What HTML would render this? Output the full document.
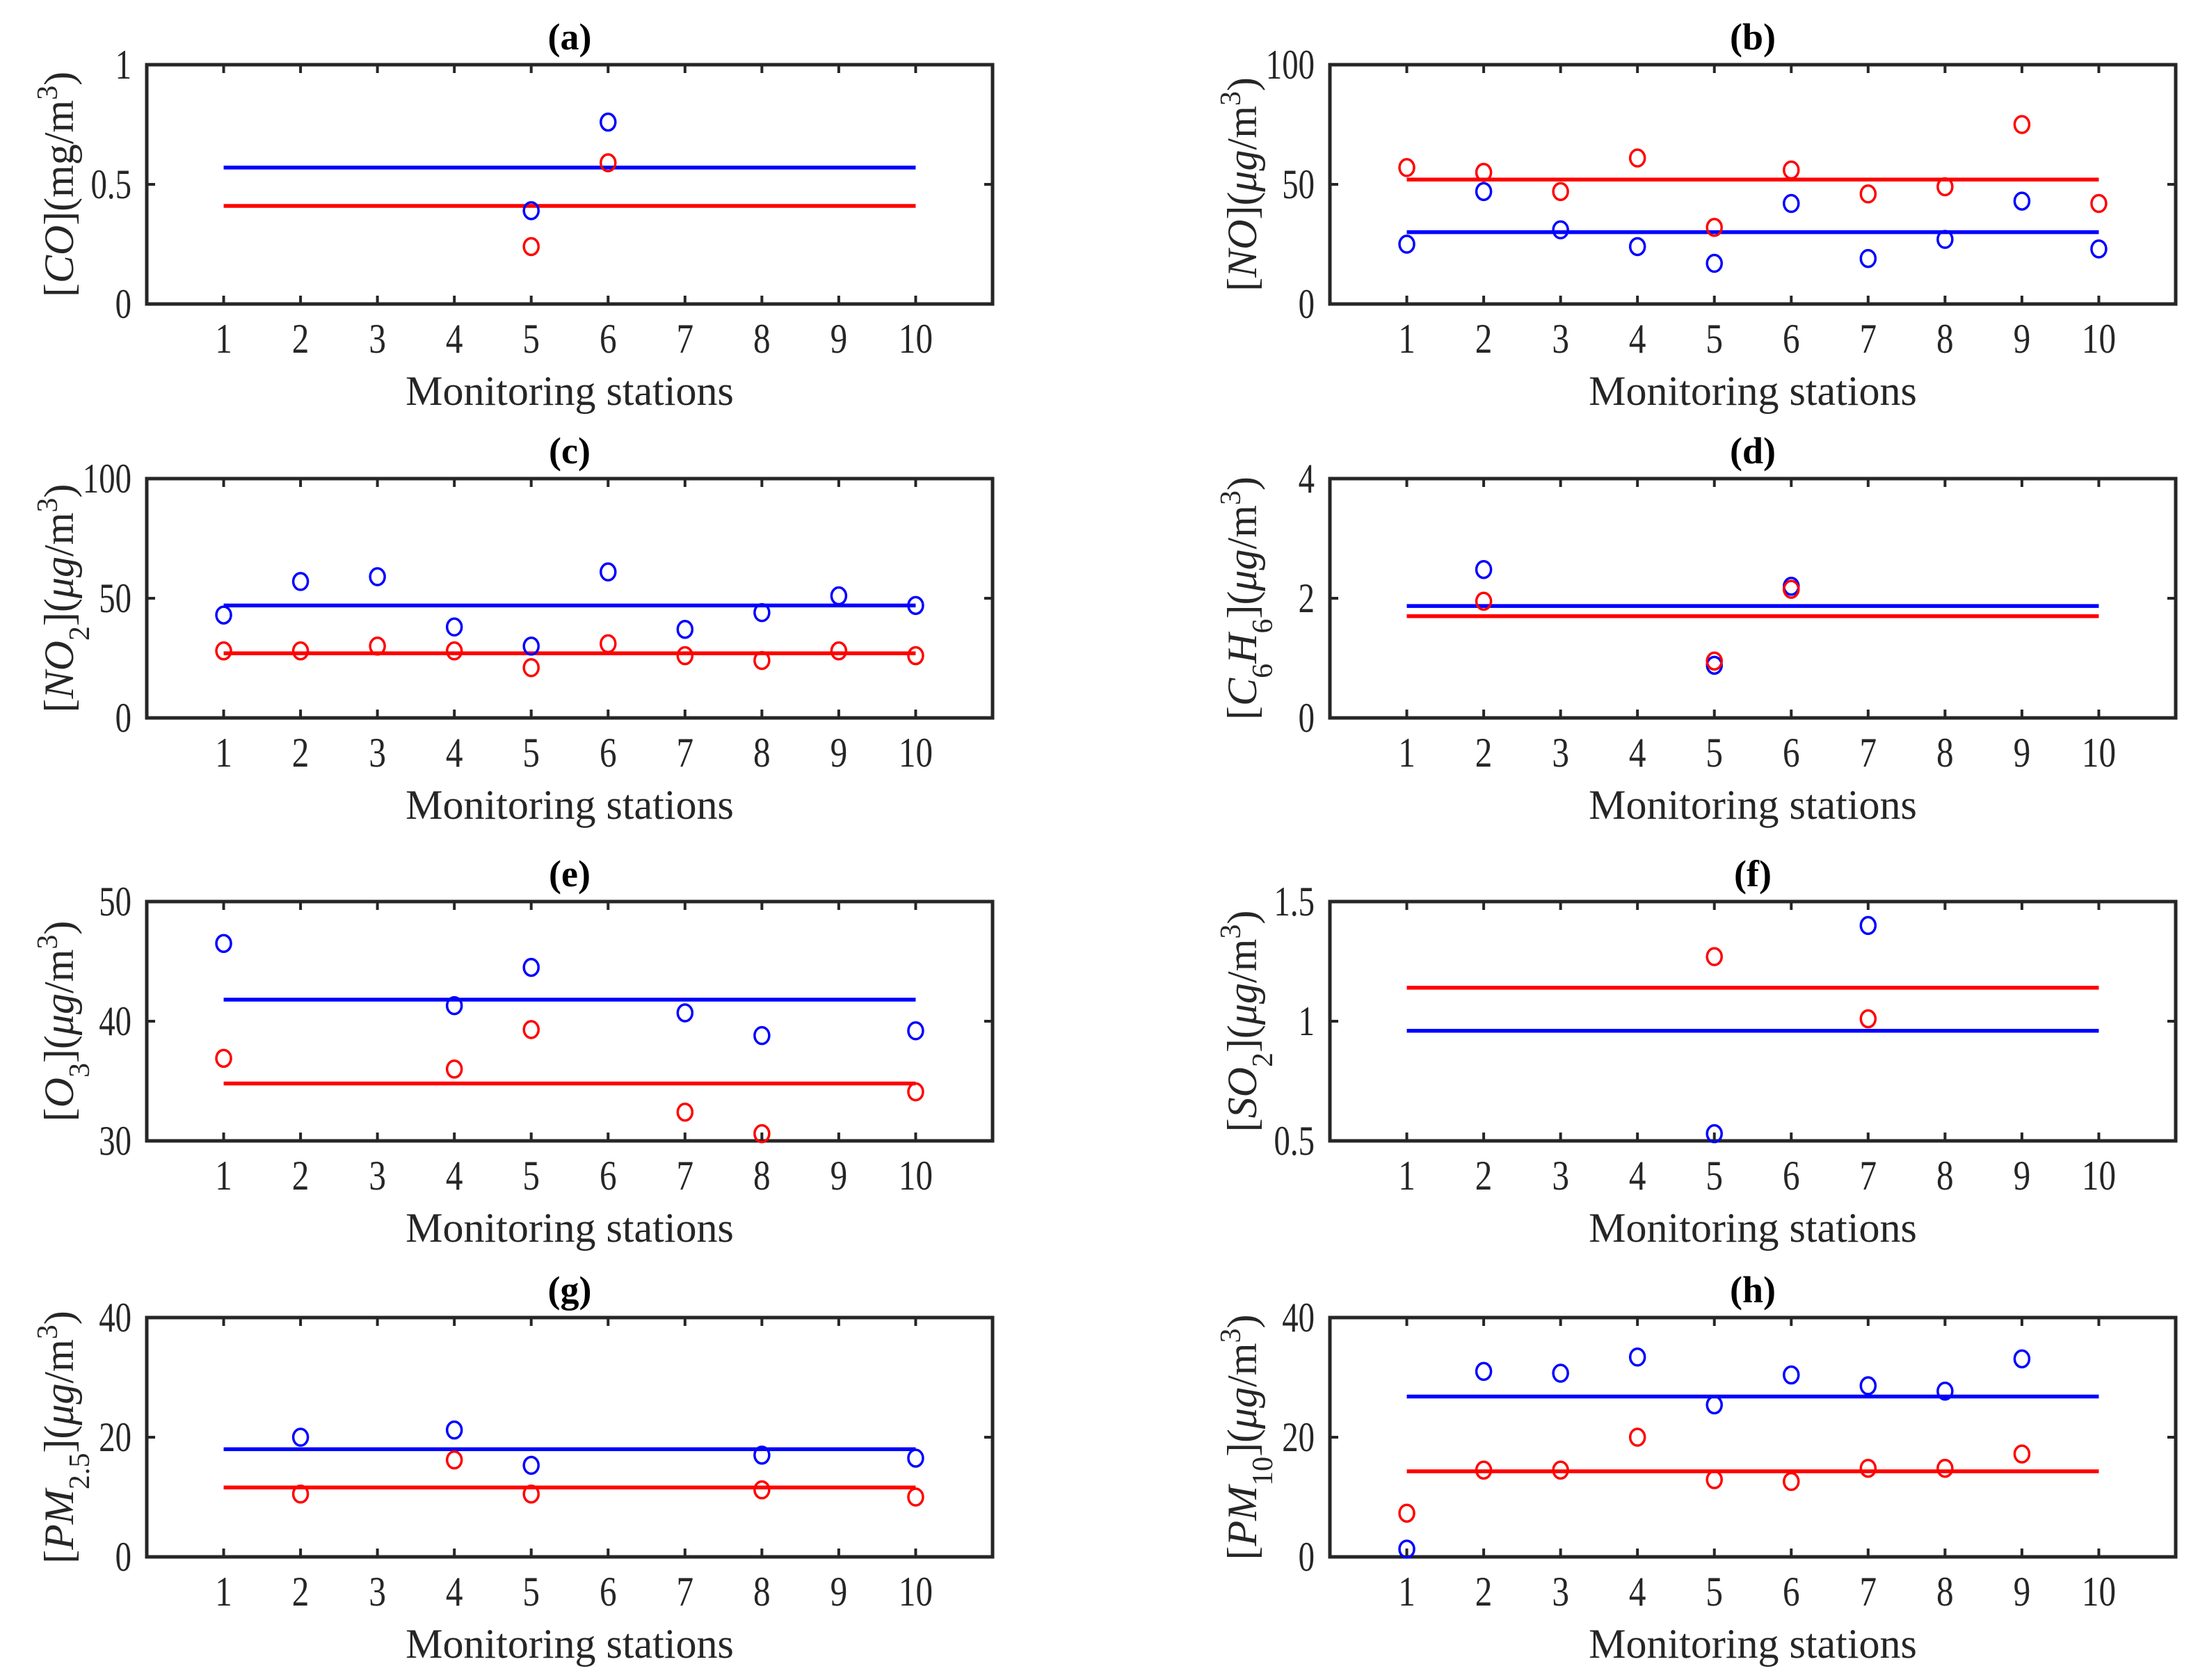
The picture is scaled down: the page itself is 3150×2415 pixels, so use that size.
<!DOCTYPE html>
<html><head><meta charset="utf-8"><style>
html,body{margin:0;padding:0;background:#fff;}
svg{display:block;font-family:"Liberation Serif","DejaVu Serif",serif;}
</style></head><body>
<svg id="fig" width="3150" height="2415" viewBox="0 0 3150 2415" xmlns="http://www.w3.org/2000/svg"></svg>
<script>
const stations = [1,2,3,4,5,6,7,8,9,10];
const panelTitles = ["(a)","(b)","(c)","(d)","(e)","(f)","(g)","(h)"];
const yMins = [0,0,0,0,30,0.5,0,0];
const yMaxs = [1,100,100,4,50,1.5,40,40];
const yTickLabels = [["0","0.5","1"],["0","50","100"],["0","50","100"],["0","2","4"],["30","40","50"],["0.5","1","1.5"],["0","20","40"],["0","20","40"]];
const blueMeans = [0.57,30,47,1.87,41.8,0.96,18,26.8];
const redMeans = [0.41,52,27,1.70,34.8,1.14,11.6,14.3];
const N = null;
const blueA = [N,N,N,N,0.39,0.76,N,N,N,N];
const redA  = [N,N,N,N,0.24,0.59,N,N,N,N];
const blueB = [25,47,31,24,17,42,19,27,43,23];
const redB  = [57,55,47,61,32,56,46,49,75,42];
const blueC = [43,57,59,38,30,61,37,44,51,47];
const redC  = [28,28,30,28,21,31,26,24,28,26];
const blueD = [N,2.48,N,N,0.88,2.2,N,N,N,N];
const redD  = [N,1.95,N,N,0.95,2.15,N,N,N,N];
const blueE = [46.5,N,N,41.3,44.5,N,40.7,38.8,N,39.2];
const redE  = [36.9,N,N,36.0,39.3,N,32.4,30.6,N,34.1];
const blueF = [N,N,N,N,0.53,N,1.40,N,N,N];
const redF  = [N,N,N,N,1.27,N,1.01,N,N,N];
const blueG = [N,20,N,21.2,15.3,N,N,17,N,16.5];
const redG  = [N,10.5,N,16.2,10.5,N,N,11.2,N,10];
const blueH = [1.3,31,30.7,33.4,25.4,30.4,28.6,27.7,33.1,N];
const redH  = [7.3,14.5,14.5,20,12.9,12.6,14.8,14.8,17.2,N];
const blueSeries = [blueA,blueB,blueC,blueD,blueE,blueF,blueG,blueH];
const redSeries = [redA,redB,redC,redD,redE,redF,redG,redH];
const yLabels = [
 [["[",""],["CO","i"],["](mg/m",""],["3","sup"],[")",""]],
 [["[",""],["NO","i"],["](",""],["μg","i"],["/m",""],["3","sup"],[")",""]],
 [["[",""],["NO","i"],["2","sub"],["](",""],["μg","i"],["/m",""],["3","sup"],[")",""]],
 [["[",""],["C","i"],["6","sub"],["H","i"],["6","sub"],["](",""],["μg","i"],["/m",""],["3","sup"],[")",""]],
 [["[",""],["O","i"],["3","sub"],["](",""],["μg","i"],["/m",""],["3","sup"],[")",""]],
 [["[",""],["SO","i"],["2","sub"],["](",""],["μg","i"],["/m",""],["3","sup"],[")",""]],
 [["[",""],["PM","i"],["2.5","sub"],["](",""],["μg","i"],["/m",""],["3","sup"],[")",""]],
 [["[",""],["PM","i"],["10","sub"],["](",""],["μg","i"],["/m",""],["3","sup"],[")",""]]
];

const NS = "http://www.w3.org/2000/svg";
const svg = document.getElementById("fig");
function mk(tag, attrs, parent){
  const e = document.createElementNS(NS, tag);
  for (const k in attrs) e.setAttribute(k, attrs[k]);
  (parent||svg).appendChild(e);
  return e;
}
const colX = [211, 1912];
const rowY = [93, 688, 1296, 1894];
const W = 1216, H = 344;
for (let p = 0; p < 8; p++) {
  const L = colX[p%2], T = rowY[Math.floor(p/2)];
  const g = mk("g", {});
  
  
  const xS = v => L + v / 11 * W;
  const yS = v => T + H - (v - yMins[p]) / (yMaxs[p] - yMins[p]) * H;
  const box = mk("rect", {x:L, y:T, width:W, height:H, fill:"none", stroke:"#262626", "stroke-width":5}, g);
  
  
  stations.forEach(s => {
    const x = xS(s);
    mk("line", {x1:x, y1:T+H, x2:x, y2:T+H-12, stroke:"#262626", "stroke-width":4}, g);
    mk("line", {x1:x, y1:T, x2:x, y2:T+12, stroke:"#262626", "stroke-width":4}, g);
    const t = mk("text", {transform:"translate("+x+","+(T+H+70)+") scale(0.82,1)", "text-anchor":"middle", "font-size":60, fill:"#262626"}, g);
    t.textContent = String(s);
    
    
  });
  yTickLabels[p].forEach((lab, i) => {
    const v = yMins[p] + i * (yMaxs[p] - yMins[p]) / 2;
    const y = yS(v);
    mk("line", {x1:L, y1:y, x2:L+12, y2:y, stroke:"#262626", "stroke-width":4}, g);
    mk("line", {x1:L+W, y1:y, x2:L+W-12, y2:y, stroke:"#262626", "stroke-width":4}, g);
    const t = mk("text", {transform:"translate("+(L-22)+","+(y+20)+") scale(0.78,1)", "text-anchor":"end", "font-size":60, fill:"#262626"}, g);
    t.textContent = lab;
    
    
  });
  const bl = mk("line", {x1:xS(1), x2:xS(10), y1:yS(blueMeans[p]), y2:yS(blueMeans[p]), stroke:"#0000ff", "stroke-width":5.5}, g);
  
  
  const rl = mk("line", {x1:xS(1), x2:xS(10), y1:yS(redMeans[p]), y2:yS(redMeans[p]), stroke:"#ff0000", "stroke-width":5.5}, g);
  
  
  [[blueSeries[p],"#0000ff","blue"],[redSeries[p],"#ff0000","red"]].forEach(([arr,col,nm]) => {
    arr.forEach((v, i) => {
      if (v === null) return;
      const c = mk("ellipse", {cx:xS(stations[i]), cy:yS(v), rx:10.5, ry:12, fill:"none", stroke:col, "stroke-width":3.5}, g);
      
      
    });
  });
  const tt = mk("text", {x:L+W/2, y:T-22, "text-anchor":"middle", "font-size":54, "font-weight":"bold", fill:"#000"}, g);
  tt.textContent = panelTitles[p];
  
  
  const xl = mk("text", {x:L+W/2, y:T+H+145, "text-anchor":"middle", "font-size":60, fill:"#262626"}, g);
  xl.textContent = "Monitoring stations";
  
  
  const lx = L - 106, ly = T + H/2;
  const yl = mk("text", {transform:"translate("+lx+","+ly+") rotate(-90)", "text-anchor":"middle", "font-size":60, fill:"#262626"}, g);
  
  
  yLabels[p].forEach(([txt, st]) => {
    const ts = mk("tspan", {}, yl);
    if (st === "i") ts.setAttribute("font-style", "italic");
    if (st === "sup") { ts.setAttribute("baseline-shift", "super"); ts.setAttribute("font-size", 42); }
    if (st === "sub") { ts.setAttribute("baseline-shift", "sub"); ts.setAttribute("font-size", 42); }
    ts.textContent = txt;
  });
}
</script>
</body></html>
